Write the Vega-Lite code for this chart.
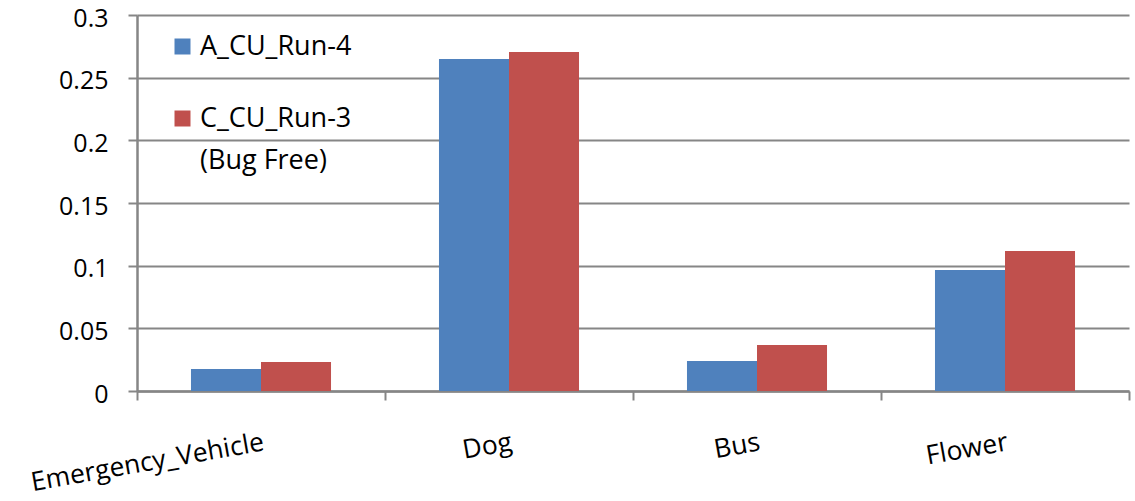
{
  "$schema": "https://vega.github.io/schema/vega-lite/v6.json",
  "width": 992,
  "height": 376,
  "autosize": "none",
  "padding": {"left": 137, "top": 15, "right": 6, "bottom": 110},
  "background": "white",
  "config": {
    "font": "Open Sans",
    "view": {"stroke": null},
    "style": {"guide-label": {"lineHeight": 42}}
  },
  "data": {
    "values": [
      {"category": "Emergency_Vehicle", "series": "A_CU_Run-4", "value": 0.0176},
      {"category": "Emergency_Vehicle", "series": "C_CU_Run-3", "value": 0.0232},
      {"category": "Dog", "series": "A_CU_Run-4", "value": 0.2649},
      {"category": "Dog", "series": "C_CU_Run-3", "value": 0.2705},
      {"category": "Bus", "series": "A_CU_Run-4", "value": 0.0239},
      {"category": "Bus", "series": "C_CU_Run-3", "value": 0.0367},
      {"category": "Flower", "series": "A_CU_Run-4", "value": 0.0965},
      {"category": "Flower", "series": "C_CU_Run-3", "value": 0.1117}
    ]
  },
  "mark": {"type": "bar"},
  "encoding": {
    "x": {
      "field": "category",
      "type": "nominal",
      "sort": null,
      "title": null,
      "scale": {"paddingInner": 0, "paddingOuter": 0},
      "axis": {
        "tickBand": "extent",
        "grid": false,
        "labelAngle": -10,
        "labelAlign": "right",
        "labelBaseline": "top",
        "labelFontSize": 26.5,
        "labelLimit": 0,
        "labelColor": "black",
        "labelPadding": 29,
        "tickSize": 9,
        "tickColor": "#868686",
        "tickWidth": 2,
        "domainColor": "#868686",
        "domainWidth": 2.5
      }
    },
    "xOffset": {
      "field": "series",
      "type": "nominal",
      "scale": {"paddingInner": 0, "paddingOuter": 0.771}
    },
    "y": {
      "field": "value",
      "type": "quantitative",
      "title": null,
      "scale": {"domain": [0, 0.3], "nice": false},
      "axis": {
        "values": [0, 0.05, 0.1, 0.15, 0.2, 0.25, 0.3],
        "format": ".2~f",
        "labelFontSize": 25,
        "labelColor": "black",
        "labelPadding": 20,
        "labelOffset": 3,
        "tickSize": 9,
        "tickColor": "#868686",
        "tickWidth": 2,
        "domainColor": "#868686",
        "domainWidth": 2.5,
        "gridColor": "#868686",
        "gridWidth": 2
      }
    },
    "color": {
      "field": "series",
      "type": "nominal",
      "scale": {"domain": ["A_CU_Run-4", "C_CU_Run-3"], "range": ["#4F81BD", "#C0504D"]},
      "legend": {
        "title": null,
        "orient": "none",
        "legendX": 32,
        "legendY": 18,
        "symbolType": "square",
        "symbolSize": 256,
        "symbolStrokeWidth": 0,
        "labelFontSize": 27,
        "labelLimit": 0,
        "labelColor": "black",
        "labelOffset": 4,
        "rowPadding": 44,
        "labelBaseline": "middle",
        "labelExpr": "datum.label == 'C_CU_Run-3' ? ['C_CU_Run-3', '(Bug Free)'] : datum.label"
      }
    }
  }
}
